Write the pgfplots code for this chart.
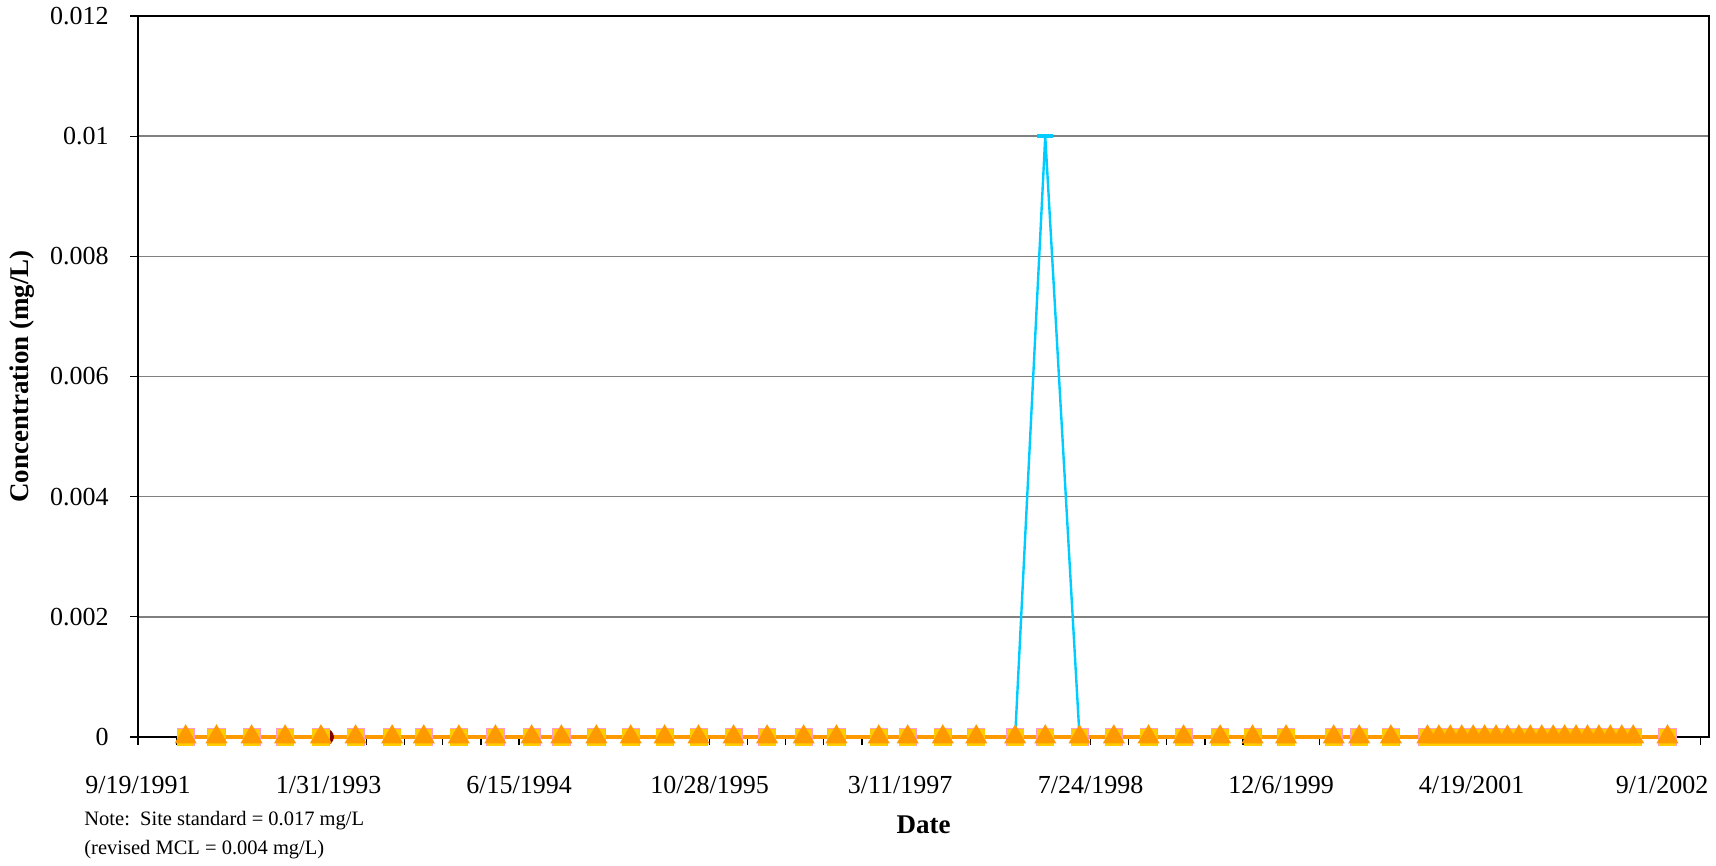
\documentclass[border=0pt]{standalone}
\usepackage{pgfplots}
\pgfplotsset{compat=1.18}
\usepackage{pgfplotstable}
\usepackage{fontspec}
\setmainfont{Liberation Serif}
\definecolor{orangeT}{HTML}{FF9900}
\definecolor{goldS}{HTML}{FFCC00}
\definecolor{cyanL}{HTML}{00CCFF}
\definecolor{pinkS}{HTML}{FF99CC}
\definecolor{maroonC}{HTML}{800000}
\definecolor{gridgray}{HTML}{808080}
\pgfplotstableread{
x y c
125 0 0
206 0 0
298 0 0
386 0 0
480 0 0
571 0 0
667 0 0
750 0 0
842 0 0
938 0 0
1033 0 0
1111 0 0
1203 0 0
1293 0 0
1382 0 0
1471 0 0
1563 0 0
1651 0 0
1747 0 0
1833 0 0
1944 0 0
2020 0 0
2112 0 0
2200 0 0
2302 0 0
2381 0 0.01
2471 0 0
2561 0 0
2652 0 0
2744 0 0
2840 0 0
2925 0 0
3013 0 0
3138 0 0
3205 0 0
3288 0 0
3384 0 0
3414 0 0
3444 0 0
3474 0 0
3504 0 0
3534 0 0
3564 0 0
3594 0 0
3624 0 0
3654 0 0
3684 0 0
3714 0 0
3744 0 0
3774 0 0
3804 0 0
3834 0 0
3864 0 0
3894 0 0
3924 0 0
4014 0 0
}\data
\begin{document}
\begin{tikzpicture}
\useasboundingbox (-69pt,-64.5pt) rectangle (789pt,368.5pt);
\begin{axis}[
  at={(0,0)}, anchor=south west, scale only axis,
  width=785.5pt, height=360.5pt,
  xmin=0, xmax=4123, ymin=0, ymax=0.012,
  xtick={0,500,1000,1500,2000,2500,3000,3500,4000},
  xticklabels={9/19/1991,1/31/1993,6/15/1994,10/28/1995,3/11/1997,7/24/1998,12/6/1999,4/19/2001,9/1/2002},
  minor xtick={100,200,300,400,600,700,800,900,1100,1200,1300,1400,1600,1700,1800,1900,2100,2200,2300,2400,2600,2700,2800,2900,3100,3200,3300,3400,3600,3700,3800,3900,4100},
  ytick={0,0.002,0.004,0.006,0.008,0.01,0.012},
  yticklabels={0,0.002,0.004,0.006,0.008,0.01,0.012},
  tick align=outside, tick pos=left,
  major tick length=4pt, minor tick length=4pt,
  ymajorgrids, major grid style={gridgray, line width=0.8pt},
  axis line style={black, line width=0.9pt},
  every tick/.style={black, line width=0.6pt},
  tick label style={font=\fontsize{13}{15}\selectfont},
  xticklabel style={anchor=center, yshift=-20pt},
  yticklabel style={anchor=east, inner sep=0pt, xshift=-10.5pt},
  clip=false,
]
\addplot[only marks, mark=*, mark size=4pt, maroonC] coordinates {(492,0)};
\addplot[only marks, mark=square*, mark size=4.3pt, pinkS] table[x=x,y=y]{\data};
\addplot[cyanL, line width=1.2pt, mark=-, mark size=4pt, mark options={line width=2pt}] table[x=x,y=c]{\data};
\addplot[only marks, mark=square*, mark size=4pt, goldS] table[x=x,y=y]{\data};
\addplot[orangeT, line width=1.6pt, mark=triangle*, mark size=4.8pt, mark options={solid}] table[x=x,y=y]{\data};
\end{axis}
\node[rotate=90, font=\bfseries\fontsize{13.5}{15}\selectfont] at (-58pt,180.25pt) {Concentration (mg/L)};
\node[font=\bfseries\fontsize{13.5}{15}\selectfont] at (392.75pt,-44pt) {Date};
\node[anchor=west, inner sep=0pt, font=\fontsize{10.25}{12}\selectfont] at (-27pt,-42pt) {Note:\ \ Site standard = 0.017 mg/L};
\node[anchor=west, inner sep=0pt, font=\fontsize{10.25}{12}\selectfont] at (-27pt,-56.5pt) {(revised MCL = 0.004 mg/L)};
\end{tikzpicture}
\end{document}
